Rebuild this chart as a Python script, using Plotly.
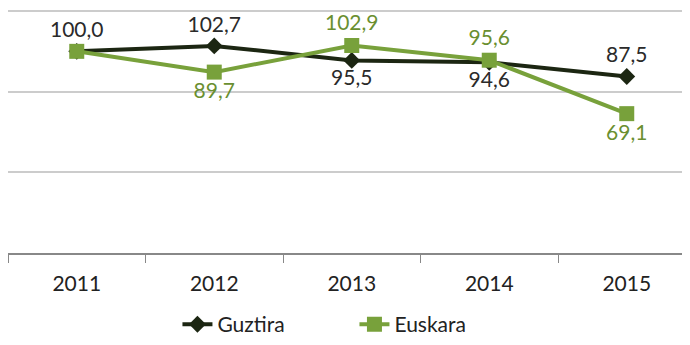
import plotly.graph_objects as go

years = ["2011", "2012", "2013", "2014", "2015"]
guztira = [100.0, 102.7, 95.5, 94.6, 87.5]
euskara = [100.0, 89.7, 102.9, 95.6, 69.1]
guztira_labels = ["100,0", "102,7", "95,5", "94,6", "87,5"]
euskara_labels = ["", "89,7", "102,9", "95,6", "69,1"]

dark = "#1c2612"
green = "#78a13b"
font = "Lato, 'Open Sans', sans-serif"

fig = go.Figure()
fig.add_trace(go.Scatter(
    x=years, y=guztira, name="Guztira", mode="lines+markers+text",
    line=dict(color=dark, width=4),
    marker=dict(symbol="diamond", size=13, color=dark),
    text=guztira_labels,
    textposition=["top center", "top center", "bottom center", "bottom center", "top center"],
    textfont=dict(color="#2a2a2a", size=21, family=font),
    cliponaxis=False,
))
fig.add_trace(go.Scatter(
    x=years, y=euskara, name="Euskara", mode="lines+markers+text",
    line=dict(color=green, width=4),
    marker=dict(symbol="square", size=15, color=green),
    text=euskara_labels,
    textposition=["top center", "bottom center", "top center", "top center", "bottom center"],
    textfont=dict(color="#6a8f30", size=21, family=font),
    cliponaxis=False,
))

# the page body adds an 8px offset, so the margins compensate for it
fig.update_layout(
    width=690, height=345,
    margin=dict(l=0, r=8, t=2, b=100, autoexpand=False),
    paper_bgcolor="white", plot_bgcolor="white",
    font=dict(family=font, size=21, color="#222"),
    showlegend=True,
    legend=dict(orientation="h", x=0.508, xanchor="center", y=-0.21, yanchor="top",
                font=dict(size=21, color="#222"), entrywidth=132, entrywidthmode="pixels",
                traceorder="normal"),
    xaxis=dict(type="category", range=[-0.5, 4.46], tickson="boundaries",
               ticks="outside", ticklen=8, tickcolor="#888", showgrid=False,
               showline=True, linecolor="#888", linewidth=1.5, automargin=False,
               ticklabelstandoff=11,
               tickfont=dict(size=21, color="#222")),
    yaxis=dict(range=[0, 120.5], tickvals=[40, 80, 120], showgrid=True, gridcolor="#cccccc",
               gridwidth=2, showticklabels=False, zeroline=False, automargin=False),
)

fig.write_html("out.html")
